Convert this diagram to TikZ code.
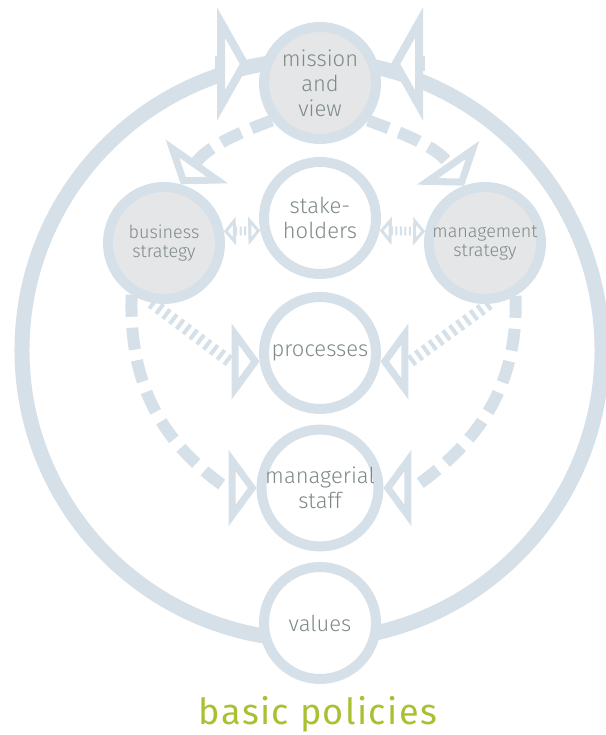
\documentclass[tikz,border=0pt]{standalone}
\usepackage{fontspec}
\setmainfont{Fira Sans}[UprightFont=* Light]
\newfontfamily\titlefont{Fira Sans}[LetterSpace=4]
\usetikzlibrary{arrows.meta,calc}
\definecolor{ring}{HTML}{D6E0E8}
\definecolor{softgray}{HTML}{E5E6E7}
\definecolor{txt}{HTML}{7F8A85}
\definecolor{olive}{HTML}{A8C032}
\pgfdeclarelayer{bg}
\pgfsetlayers{bg,main}
\tikzset{
  bubble/.style={circle, draw=ring, line width=10pt, minimum size=112pt, inner sep=0pt,
    text=txt, align=center, font=\fontsize{22}{25}\selectfont},
  shaded/.style={bubble, fill=softgray},
  plain/.style={bubble, fill=white},
  smalltext/.style={font=\fontsize{18}{18.5}\selectfont},
  bigline/.style={draw=ring, line width=15pt},
  dashline/.style={draw=ring, line width=12pt, dash pattern=on 22pt off 11pt},
  dotline/.style={draw=ring, line width=12pt, dash pattern=on 4pt off 4.5pt},
  fineline/.style={draw=ring, line width=9pt, dash pattern=on 2pt off 2.5pt},
  bigtip/.tip={Triangle[length=32pt, width=112pt, line width=9pt, fill=white]},
  midtip/.tip={Triangle[length=28pt, width=75pt, line width=8pt, fill=white]},
  smalltip/.tip={Triangle[length=12pt, width=28pt, line width=4pt, fill=white]},
}
\begin{document}
\begin{tikzpicture}[x=1pt,y=1pt]
\useasboundingbox (0,0) rectangle (605,735);
\coordinate (C) at (312,385);
\node[shaded] (mission) at (320,652) {mission\\and\\view};
\node[plain] (stake) at (320,517) {stake-\\holders};
\node[shaded, smalltext] (bus) at (164,492) {business\\strategy};
\node[shaded, smalltext] (mgmt) at (485,492) {management\\strategy};
\node[plain] (proc) at (320,382) {processes};
\node[plain] (staff) at (320,247) {managerial\\staff};
\node[plain] (values) at (320,112) {values};
\node[text=olive, font=\titlefont\fontsize{36}{40}\selectfont, anchor=base] (title) at (318,10) {basic policies};
\coordinate (tipL) at (249,671);
\coordinate (tipR) at (391,671);
\coordinate (aL) at ($(tipL)+(-34,0)$);
\coordinate (aR) at ($(tipR)+(34,0)$);
\begin{pgfonlayer}{bg}
  % outer ring, from values up to mission on both sides
  \draw[bigline] ($(C)+(265:290)$) arc[start angle=265, end angle=96.3, radius=290];
  \draw[bigline] ($(C)+(-85:290)$) arc[start angle=-85, end angle=80.5, radius=290];
  \draw[bigline, -{bigtip}] (aL) -- (tipL);
  \draw[bigline, -{bigtip}] (aR) -- (tipR);
  % dashed from mission to strategies
  \draw[dashline, -{midtip}] (mission.218) to[out=200, in=55] (bus.74);
  \draw[dashline, -{midtip}] (mission.322) to[out=-20, in=125] (mgmt.110);
  % dashed from strategies to managerial staff
  \coordinate (sL) at ($(staff.180)+(-30,0)$);
  \coordinate (sR) at ($(staff.0)+(30,0)$);
  \draw[dashline, -{midtip}] (bus.238) to[out=268, in=145] (sL) -- (staff.180);
  \draw[dashline, -{midtip}] (mgmt.300) to[out=-88, in=35] (sR) -- (staff.0);
  % dotted from strategies to processes
  \coordinate (pL) at ($(proc.188)+(-30,0)$);
  \coordinate (pR) at ($(proc.-8)+(30,0)$);
  \draw[dotline, -{midtip}] (bus.258) -- (pL) -- (proc.188);
  \draw[dotline, -{midtip}] (mgmt.274) -- (pR) -- (proc.-8);
  % small double arrows
  \draw[fineline, {smalltip}-{smalltip}] (bus.11) -- (stake.192);
  \draw[fineline, {smalltip}-{smalltip}] (stake.-12) -- (mgmt.169);
\end{pgfonlayer}
\end{tikzpicture}
\end{document}
